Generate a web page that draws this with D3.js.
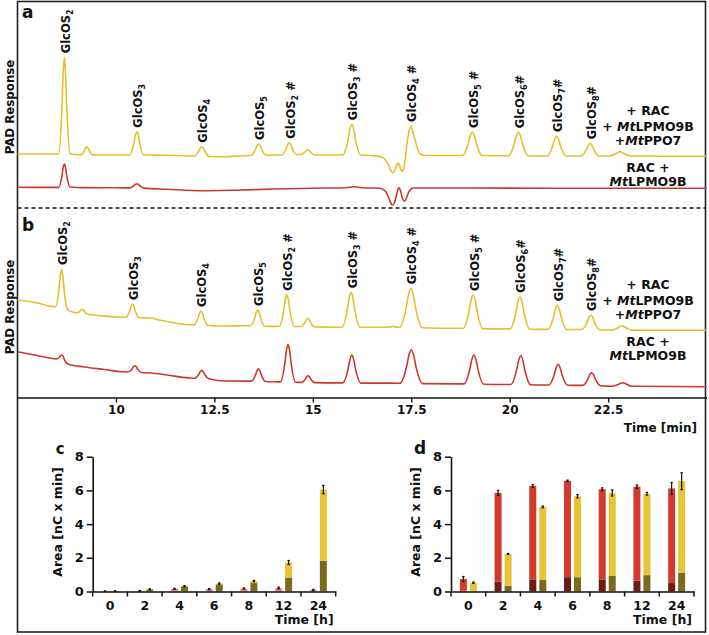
<!DOCTYPE html>
<html><head><meta charset="utf-8">
<script src="https://cdn.jsdelivr.net/npm/d3@7"></script>
<style>body{margin:0;background:#fff}svg{display:block}text{font-family:"DejaVu Sans",Verdana,sans-serif;font-weight:bold;fill:#111}</style>
</head><body>
<svg id="c" width="709" height="635"></svg>
<script>
// ---------- DATA ----------
const timeTicks = [10, 12.5, 15, 17.5, 20, 22.5];
// chromatograms [time (min), PAD response (a.u., incl. vertical offset)]
const traceA_yellow = [[7.5,56],[8.3,56],[8.546,56],[8.63,104.4],[8.66,137.2],[8.69,152.7],[8.72,137.2],[8.75,104.4],[8.834,56.5],[8.95,55.5],
 [9.116,55.3],[9.2,59.3],[9.23,62],[9.26,63.3],[9.29,62],[9.32,59.3],[9.404,55.2],[10.0,55],
 [10.35,55],[10.455,66.7],[10.493,74.6],[10.53,78.3],[10.568,74.6],[10.605,66.7],[10.71,55],[11.2,54.8],[11.8,54.3],
 [11.99,54],[12.1,58.7],[12.14,61.8],[12.18,63.3],[12.22,61.8],[12.26,58.7],[12.37,53.5],[12.7,53.3],[13.25,54.3],
 [13.43,54.5],[13.54,60.3],[13.58,64.2],[13.62,66],[13.66,64.2],[13.7,60.3],[13.81,54.8],[14.05,55],
 [14.21,55],[14.32,61.2],[14.36,65.3],[14.4,67.3],[14.44,65.3],[14.48,61.2],[14.59,55.5],
 [14.69,55.5],[14.795,57.9],[14.833,59.5],[14.87,60.3],[14.908,59.5],[14.945,57.9],[15.05,55],[15.55,55],
 [15.76,55],[15.895,70.4],[15.943,80.8],[15.99,85.7],[16.038,80.8],[16.085,70.4],[16.22,55],
 [16.5,54.5],[16.75,53],[16.92,45],[16.98,39.5],[17.03,37],[17.08,39.5],[17.13,45],[17.16,47],[17.19,45.5],[17.24,40],[17.28,38.5],[17.31,42],
 [17.35,52],[17.38,63],[17.435,77],[17.49,84],[17.545,77],[17.6,69.5],[17.71,56.5],[17.85,54.5],[18.6,54.5],
 [18.8,54.5],[18.945,66.3],[18.998,74.2],[19.05,78],[19.103,74.2],[19.155,66.3],[19.3,54.5],[19.8,54.3],
 [19.97,54.3],[20.115,66],[20.168,74],[20.22,77.7],[20.273,74],[20.325,66],[20.47,54.3],[20.8,54],
 [20.95,54],[21.09,64],[21.14,70.8],[21.19,74],[21.24,70.8],[21.29,64],[21.43,54],[21.7,54],
 [21.81,54],[21.945,60.4],[21.993,64.7],[22.04,66.7],[22.088,64.7],[22.135,60.4],[22.27,54],[22.45,54],
 [22.54,54],[22.69,56.2],[22.745,57.6],[22.8,58.3],[22.855,57.6],[22.91,56.2],[23.06,54],[24,53.8],[25,53.8]];
const traceA_red = [[7.5,22.7],[8.3,22.6],[8.546,22.6],[8.63,34.3],[8.66,42.3],[8.69,46],[8.72,42.3],[8.75,34.3],[8.834,23],[9.2,22.4],[10.0,22.2],
 [10.34,22.1],[10.45,24.2],[10.49,25.6],[10.53,26.3],[10.57,25.6],[10.61,24.2],[10.72,21.9],[11.3,20.8],[12.2,19.3],[13.0,19.8],[14.0,21],[15.0,21.8],
 [15.85,22.2],[16.05,23.2],[16.25,22.3],[16.7,21.8],[16.85,18.5],[16.94,11],[16.99,6.3],[17.03,5],[17.07,7],[17.12,14],[17.16,20.5],[17.19,22.3],[17.22,20],
 [17.27,12.5],[17.31,9.2],[17.34,9],[17.38,12.5],[17.45,19],[17.55,22],[19,22],[21,21.8],[25,21.7]];
const traceB_yellow = [[7.5,97.5],[8.0,94.5],[8.35,91.3],[8.46,90.8],[8.555,108.5],[8.588,122],[8.62,128.5],[8.653,121.5],[8.685,107],[8.78,87.5],[8.9,85.5],
 [9.02,84.8],[9.09,86.5],[9.12,87.6],[9.15,88.2],[9.18,87.3],[9.21,85.5],[9.29,83.3],[9.7,81.5],[10.1,80.3],
 [10.25,80.2],[10.35,86.8],[10.385,91.3],[10.42,93.5],[10.455,91.2],[10.49,86.6],[10.59,80],[10.75,79.6],[10.9,79.5],[11.1,77.5],[11.5,74.5],[11.85,72.8],
 [11.98,72.6],[12.085,79.5],[12.123,84.2],[12.16,86.5],[12.198,84],[12.235,79.3],[12.34,72],[12.8,71.5],[13.3,71.8],
 [13.42,71.8],[13.525,79.6],[13.563,85],[13.6,87.5],[13.638,85],[13.675,79.4],[13.78,71.3],[14.05,71.1],
 [14.15,71.2],[14.26,86.9],[14.3,97.7],[14.34,102.8],[14.38,97.5],[14.42,86.7],[14.53,71],
 [14.7,71],[14.8,75.1],[14.835,77.9],[14.87,79.2],[14.905,77.8],[14.94,75],[15.04,70.5],[15.6,70.3],
 [15.74,70.5],[15.875,87.7],[15.923,99.6],[15.97,105.2],[16.018,99.5],[16.065,87.6],[16.2,70.3],[16.6,70.2],
 [16.9,70.3],[17.03,71],[17.15,70.3],
 [17.2,70.2],[17.37,89.6],[17.43,102.9],[17.49,109.2],[17.55,102.8],[17.61,89.5],[17.78,69.8],[18.6,69.2],
 [18.82,69.2],[18.965,85.8],[19.018,97.2],[19.07,102.5],[19.123,97],[19.175,85.6],[19.32,68.8],[19.85,68.6],
 [20.01,68.6],[20.155,84.7],[20.208,95.6],[20.26,100.8],[20.313,95.5],[20.365,84.5],[20.51,68.3],[20.85,68.1],
 [20.97,68.1],[21.11,80.1],[21.16,88.3],[21.21,92.2],[21.26,88.2],[21.31,80],[21.45,67.9],[21.7,68],
 [21.83,68],[21.965,75.2],[22.013,80.2],[22.06,82.5],[22.108,80.1],[22.155,75.1],[22.29,67.7],[22.45,67.5],
 [22.59,67.5],[22.74,69.5],[22.795,70.9],[22.85,71.5],[22.905,70.8],[22.96,69.4],[23.11,67.4],[24,67.3],[25,67.3]];
const traceB_red = [[7.5,45.8],[8.0,42],[8.35,39.2],[8.49,38.6],[8.57,40.5],[8.6,42],[8.63,42.5],[8.66,41.2],[8.7,37],[8.8,33.3],[9.2,30.5],[9.7,28],[10.15,25.7],
 [10.31,25.5],[10.41,28.6],[10.445,30.7],[10.48,31.8],[10.515,30.7],[10.55,28.4],[10.65,25],[10.9,24.5],[11.3,22.5],[11.85,19.6],
 [12.0,19.3],[12.105,23.2],[12.143,25.9],[12.18,27.2],[12.218,25.8],[12.255,23],[12.36,18.8],[12.8,16.5],[13.3,16.4],
 [13.44,16.4],[13.545,22.5],[13.583,26.8],[13.62,28.8],[13.658,26.7],[13.695,22.4],[13.8,16],[14.05,15.7],
 [14.18,15.6],[14.29,34.3],[14.33,47.1],[14.37,53.2],[14.41,47],[14.45,34.2],[14.56,15.3],
 [14.71,15.1],[14.81,18.4],[14.845,20.7],[14.88,21.8],[14.915,20.6],[14.95,18.3],[15.05,14.9],[15.6,14.6],
 [15.76,14.6],[15.895,28.5],[15.943,38],[15.99,42.5],[16.038,37.9],[16.085,28.4],[16.22,14.4],[17.0,14.4],
 [17.21,14.2],[17.38,30.8],[17.44,42.2],[17.5,47.5],[17.56,42.1],[17.62,30.7],[17.79,13.9],[18.65,13.6],
 [18.84,13.6],[18.985,28],[19.038,37.9],[19.09,42.5],[19.143,37.8],[19.195,27.9],[19.34,13.3],[19.85,13],
 [20.03,13],[20.175,27.4],[20.228,37.2],[20.28,41.8],[20.333,37.1],[20.385,27.3],[20.53,12.8],[20.85,12.5],
 [20.99,12.5],[21.13,22.8],[21.18,29.9],[21.23,33.2],[21.28,29.8],[21.33,22.7],[21.47,12.3],[21.7,12.1],
 [21.85,12.1],[21.985,18.4],[22.033,22.8],[22.08,24.8],[22.128,22.7],[22.175,18.3],[22.31,11.8],[22.45,11.4],
 [22.61,11.3],[22.76,13.1],[22.815,14.2],[22.87,14.8],[22.925,14.2],[22.98,13],[23.13,11.2],[25,10.8]];
// peak labels
const peakDP = ["2","3","4","5","2","3","4","5","6","7","8"];
const peakSuffix = ["","","",""," #"," #"," #"," #","#","#","#"];
const peakTimesA = [8.69,10.53,12.18,13.62,14.40,15.99,17.49,19.05,20.22,21.19,22.04];
const peakTimesB = [8.62,10.42,12.16,13.60,14.34,15.97,17.49,19.07,20.26,21.21,22.06];
// bar charts
const hours = ["0","2","4","6","8","12","24"];
const yTicksBar = [0,2,4,6,8];
const cRedTotal    = [0.02,0.04,0.16,0.14,0.18,0.21,0.10];
const cRedErr      = [0.01,0.02,0.03,0.03,0.03,0.05,0.03];
const cYellowDark  = [0.02,0.12,0.30,0.42,0.50,0.83,1.82];
const cYellowTotal = [0.03,0.14,0.32,0.47,0.62,1.72,6.05];
const cYellowErr   = [0.01,0.02,0.03,0.04,0.04,0.12,0.25];
const dRedDark     = [0.05,0.58,0.72,0.85,0.72,0.65,0.50];
const dRedTotal    = [0.74,5.85,6.27,6.57,6.07,6.22,6.12];
const dRedErr      = [0.15,0.15,0.08,0.04,0.08,0.10,0.35];
const dYellowDark  = [0.04,0.34,0.68,0.85,0.93,0.97,1.12];
const dYellowTotal = [0.52,2.23,5.02,5.65,5.85,5.80,6.55];
const dYellowErr   = [0.04,0.03,0.05,0.10,0.18,0.08,0.50];

// ---------- DRAW ----------
const svg = d3.select("#c");
const YEL = "#e4c12c", RED = "#c83a2e";
const x = d3.scaleLinear().domain([7.5, 25]).range([17.5, 706.6]);
const yA = d3.scaleLinear().domain([0, 200]).range([210, 10]);
const yB = d3.scaleLinear().domain([0, 190]).range([397.5, 207.5]);

svg.append("rect").attr("x",17.5).attr("y",1.5).attr("width",688).attr("height",630.5)
  .attr("fill","none").attr("stroke","#222").attr("stroke-width",1.6);
svg.append("line").attr("x1",17.5).attr("x2",705.5).attr("y1",208).attr("y2",208)
  .attr("stroke","#111").attr("stroke-width",1.3).attr("stroke-dasharray","4,3");

function drawTrace(data, ys, color){
  const line = d3.line().x(d=>x(d[0])).y(d=>ys(d[1])).curve(d3.curveMonotoneX);
  svg.append("path").datum(data).attr("d",line).attr("fill","none")
     .attr("stroke",color).attr("stroke-width",1.6).attr("stroke-linejoin","round");
}
drawTrace(traceA_yellow, yA, YEL);
drawTrace(traceA_red, yA, RED);
drawTrace(traceB_yellow, yB, YEL);
drawTrace(traceB_red, yB, RED);

const ax = svg.append("g").attr("transform","translate(0,397.5)")
  .call(d3.axisBottom(x).tickValues(timeTicks).tickSize(5).tickSizeOuter(0).tickPadding(3)
        .tickFormat(d=>String(d)));
ax.select(".domain").attr("stroke","#111").attr("stroke-width",1.6);
ax.selectAll(".tick line").attr("stroke","#111").attr("stroke-width",1.4);
ax.selectAll(".tick text").attr("font-size",12).attr("fill","#111")
  .attr("font-family","DejaVu Sans").attr("font-weight","bold");
svg.append("text").attr("x",697).attr("y",432).attr("text-anchor","end").attr("font-size",12).text("Time [min]");

function drawLabels(times, trace, ys){
  times.forEach((t,i)=>{
    const near = trace.filter(p=>Math.abs(p[0]-t)<0.06);
    const top = d3.max(near, p=>p[1]);
    const g = svg.append("text").attr("font-size",11.5)
      .attr("transform",`translate(${x(t)+5.5},${ys(top)-4}) rotate(-90)`);
    g.append("tspan").text("GlcOS");
    g.append("tspan").attr("font-size",8).attr("dy",3).text(peakDP[i]);
    if (peakSuffix[i]) g.append("tspan").attr("dy",-3).text(peakSuffix[i]);
  });
}
drawLabels(peakTimesA, traceA_yellow, yA);
drawLabels(peakTimesB, traceB_yellow, yB);

function legend(y0){
  const cx = 648;
  svg.append("text").attr("x",cx).attr("y",y0).attr("text-anchor","middle").attr("font-size",12.5).text("+ RAC");
  const t2 = svg.append("text").attr("x",cx).attr("y",y0+15.5).attr("text-anchor","middle").attr("font-size",12.5);
  t2.append("tspan").text("+ "); t2.append("tspan").attr("font-style","italic").text("Mt"); t2.append("tspan").text("LPMO9B");
  const t3 = svg.append("text").attr("x",cx).attr("y",y0+29.5).attr("text-anchor","middle").attr("font-size",12.5);
  t3.append("tspan").text("+"); t3.append("tspan").attr("font-style","italic").text("Mt"); t3.append("tspan").text("PPO7");
  svg.append("text").attr("x",cx).attr("y",y0+56.5).attr("text-anchor","middle").attr("font-size",12.5).text("RAC +");
  const t5 = svg.append("text").attr("x",cx).attr("y",y0+70.5).attr("text-anchor","middle").attr("font-size",12.5);
  t5.append("tspan").attr("font-style","italic").text("Mt"); t5.append("tspan").text("LPMO9B");
}
legend(115);
legend(289);

svg.append("text").attr("x",22).attr("y",18).attr("font-size",17).attr("font-family","Liberation Sans").text("a");
svg.append("text").attr("x",22).attr("y",231).attr("font-size",17).attr("font-family","Liberation Sans").text("b");
[107,307].forEach(cy=>{
  svg.append("text").attr("transform",`translate(14,${cy}) rotate(-90)`).attr("text-anchor","middle")
    .attr("font-size",11.8).text("PAD Response");
});

function barChart(x0, x1, letter, redTotal, redDark, redErr, yelTotal, yelDark, yelErr, redColor, redDarkColor){
  const yb = d3.scaleLinear().domain([0,8]).range([591.5, 456.7]);
  const xb = d3.scaleBand().domain(hours).range([x0, x1]).padding(0);
  const xs = d3.scaleBand().domain(["r","y"]).range([0, xb.bandwidth()]).paddingInner(0.3).paddingOuter(0.885);
  const g = svg.append("g");
  const recs = hours.map((h,i)=>({h, rT:redTotal[i], rD:redDark[i], rE:redErr[i], yT:yelTotal[i], yD:yelDark[i], yE:yelErr[i]}));
  recs.forEach(d=>{
    const xr = xb(d.h)+xs("r"), xy = xb(d.h)+xs("y"), w = xs.bandwidth();
    const parts = [
      [xr, 0, d.rD, redDarkColor], [xr, d.rD, d.rT, redColor],
      [xy, 0, d.yD, "#7a6a1f"], [xy, d.yD, d.yT, "#e6c434"]];
    parts.forEach(p=>{
      if (p[2] > p[1]) g.append("rect").attr("x",p[0]).attr("width",w)
        .attr("y",yb(p[2])).attr("height",yb(p[1])-yb(p[2])).attr("fill",p[3]);
    });
    [[xr,d.rT,d.rE],[xy,d.yT,d.yE]].forEach(e=>{
      const cx = e[0]+w/2;
      g.append("line").attr("x1",cx).attr("x2",cx).attr("y1",yb(e[1]-e[2])).attr("y2",yb(e[1]+e[2]))
        .attr("stroke","#111").attr("stroke-width",1.2);
      [e[1]-e[2], e[1]+e[2]].forEach(v=>g.append("line").attr("x1",cx-1.2).attr("x2",cx+1.2)
        .attr("y1",yb(v)).attr("y2",yb(v)).attr("stroke","#111").attr("stroke-width",1.2));
    });
  });
  const ay = g.append("g").attr("transform",`translate(${x0},0)`)
    .call(d3.axisLeft(yb).tickValues(yTicksBar).tickSize(6).tickSizeOuter(0).tickPadding(3));
  ay.select(".domain").attr("stroke","#111").attr("stroke-width",1.6);
  ay.selectAll(".tick line").attr("stroke","#111").attr("stroke-width",1.5);
  ay.selectAll(".tick text").attr("font-size",13).attr("fill","#111").attr("font-family","DejaVu Sans").attr("font-weight","bold");
  const axb = g.append("g").attr("transform",`translate(0,${yb(0)})`)
    .call(d3.axisBottom(xb).tickSize(0).tickPadding(10));
  axb.select(".domain").attr("stroke","#111").attr("stroke-width",1.6);
  axb.selectAll(".tick text").attr("font-size",12.5).attr("fill","#111").attr("font-family","DejaVu Sans").attr("font-weight","bold");
  d3.range(hours.length+1).forEach(i=>{
    const xx = x0 + i*xb.step();
    g.append("line").attr("x1",xx).attr("x2",xx).attr("y1",yb(0)).attr("y2",yb(0)+5).attr("stroke","#111").attr("stroke-width",1.5);
  });
  g.append("text").attr("x",x1-2).attr("y",624).attr("text-anchor","end").attr("font-size",12.5).text("Time [h]");
  g.append("text").attr("transform",`translate(${x0-31},522) rotate(-90)`).attr("text-anchor","middle")
    .attr("font-size",12.5).text("Area [nC x min]");
  g.append("text").attr("x",x0-37).attr("y",454).attr("font-size",letter==="d"?17:15).text(letter);
}
barChart(92.7, 335.7, "c", cRedTotal, cRedTotal.map(v=>0), cRedErr, cYellowTotal, cYellowDark, cYellowErr, "#de858a", "#6e1b12");
barChart(451, 694, "d", dRedTotal, dRedDark, dRedErr, dYellowTotal, dYellowDark, dYellowErr, "#d23a2c", "#6e1b12");
</script>
</body></html>
